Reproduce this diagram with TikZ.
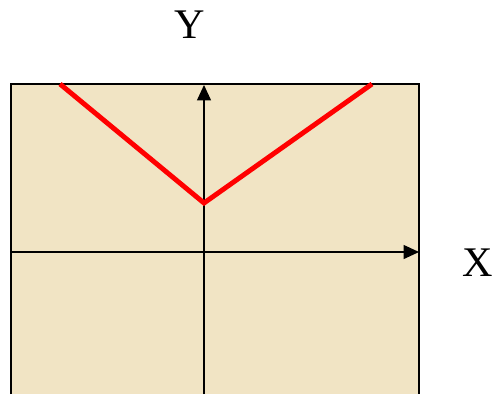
\documentclass[tikz,border=0pt]{standalone}
\usepackage{fontspec}
\setmainfont{Liberation Serif}
\usetikzlibrary{arrows.meta}
\definecolor{paper}{RGB}{241,228,196}
\begin{document}
\begin{tikzpicture}[x=0.025cm, y=-0.025cm, >={Triangle[length=11pt,width=10pt]}]
\useasboundingbox (0,0) rectangle (497,394);
\tikzset{axislabel/.style={font=\fontsize{30}{34}\selectfont, inner sep=0pt}}
\fill[paper] (11,84) rectangle (419,394);
\draw[line width=0.9pt] (11,394) -- (11,84) -- (419,84) -- (419,394);
\coordinate (yfoot) at (204,394);
\coordinate (ytip) at (204,85);
\coordinate (xfoot) at (11,252);
\coordinate (xtip) at (419,252);
\node[axislabel] (ylab) at (190,25) {Y};
\node[axislabel] (xlab) at (478,263) {X};
\draw[->, line width=0.8pt] (yfoot) -- (ytip);
\draw[->, line width=0.8pt] (xfoot) -- (xtip);
\coordinate (left) at (60,84);
\coordinate (vertex) at (204,203);
\coordinate (right) at (372,84);
\draw[red, line width=3.5pt] (left) -- (vertex) -- (right);
\end{tikzpicture}
\end{document}
